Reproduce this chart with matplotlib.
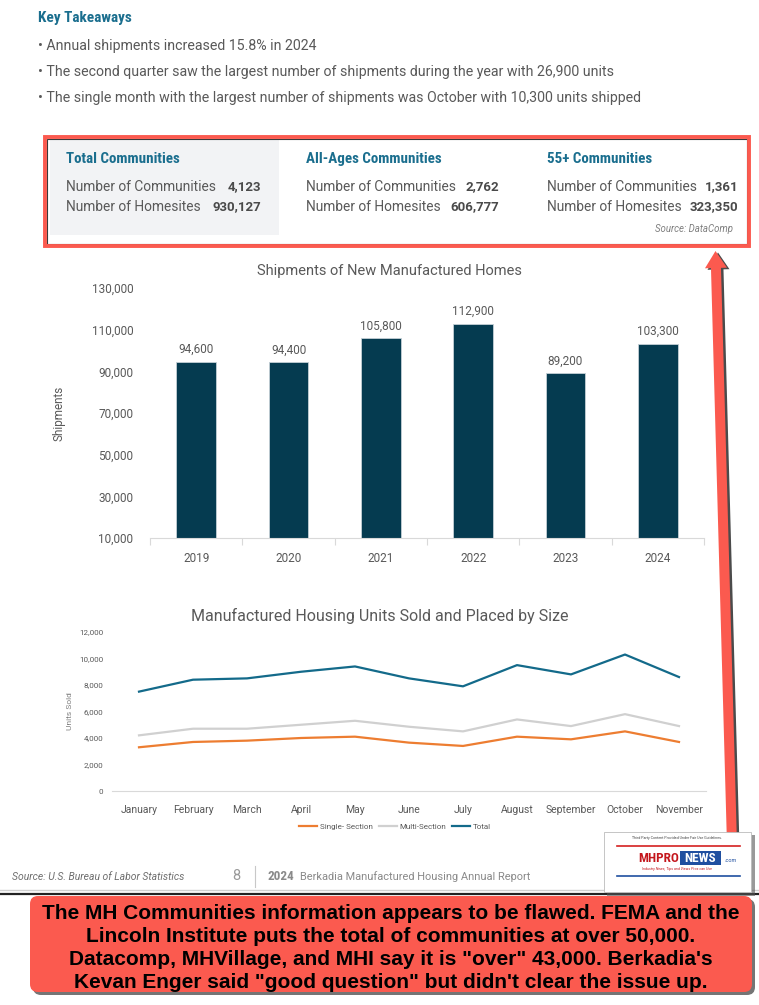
import matplotlib
matplotlib.use('Agg')
import matplotlib.pyplot as plt
from matplotlib.patches import Rectangle, FancyBboxPatch, Polygon
from matplotlib import font_manager as fm
from matplotlib.ticker import FuncFormatter, FixedLocator

# ---------------- data ----------------
years = ['2019', '2020', '2021', '2022', '2023', '2024']
shipments = [94600, 94400, 105800, 112900, 89200, 103300]
bar_yticks = [10000, 30000, 50000, 70000, 90000, 110000, 130000]

months = ['January', 'February', 'March', 'April', 'May', 'June', 'July',
          'August', 'September', 'October', 'November']
single_section = [3300, 3700, 3800, 4000, 4100, 3650, 3400, 4100, 3900, 4500, 3700]
multi_section = [4200, 4700, 4700, 5000, 5300, 4850, 4500, 5400, 4900, 5800, 4900]
total_units = [7500, 8400, 8500, 9000, 9400, 8500, 7900, 9500, 8800, 10300, 8600]
line_yticks = [0, 2000, 4000, 6000, 8000, 10000, 12000]
series_names = ['Single- Section', 'Multi-Section', 'Total']

takeaways = [
    'Annual shipments increased 15.8% in 2024',
    'The second quarter saw the largest number of shipments during the year with 26,900 units',
    'The single month with the largest number of shipments was October with 10,300 units shipped',
]
community_groups = ['Total Communities', 'All-Ages Communities', '55+ Communities']
num_communities = [4123, 2762, 1361]
num_homesites = [930127, 606777, 323350]

callout_lines = [
    'The MH Communities information appears to be flawed. FEMA and the',
    'Lincoln Institute puts the total of communities at over 50,000.',
    'Datacomp, MHVillage, and MHI say it is "over" 43,000. Berkadia\'s',
    'Kevan Enger said "good question" but didn\'t clear the issue up.',
]

# ---------------- fonts ----------------
names = {f.name for f in fm.fontManager.ttflist}
def pick(*cands):
    for c in cands:
        if c in names:
            return c
    return 'DejaVu Sans'
BASE = pick('Roboto', 'Lato', 'DejaVu Sans')
COND = pick('Roboto Condensed', 'Liberation Sans Narrow', 'Roboto', 'DejaVu Sans')
NARROW = pick('Liberation Sans Narrow', 'Roboto Condensed', 'Liberation Sans', 'DejaVu Sans')
ARIAL = pick('Liberation Sans', 'Arimo', 'DejaVu Sans')
plt.rcParams['font.family'] = [BASE, 'DejaVu Sans']

W, H = 759, 1005
TEAL = '#1a6e8e'
GRAY = '#595959'
RED = '#fb5a4f'
BAR = '#053b50'

fig = plt.figure(figsize=(W / 100, H / 100), dpi=100)
fig.patch.set_facecolor('white')

def fbox(x0, y0, x1, y1):
    return [x0 / W, 1 - y1 / H, (x1 - x0) / W, (y1 - y0) / H]

# background overlay
bg = fig.add_axes([0, 0, 1, 1], zorder=0)
bg.set_xlim(0, W); bg.set_ylim(H, 0); bg.axis('off')

bg.text(38, 18, 'Key Takeaways', fontsize=11, fontweight='bold', color=TEAL,
        family=COND, va='center', ha='left')
for i, t in enumerate(takeaways):
    bg.text(38, 46 + 26 * i, '\u2022 ' + t, fontsize=10.2, color=GRAY, va='center', ha='left')

# communities box
bg.add_patch(Rectangle((50, 139), 229, 96, facecolor='#f2f3f5', edgecolor='none'))
bg.add_patch(Rectangle((47, 139), 700, 105, facecolor='none', edgecolor='#3a3a3a', lw=0.8))
bg.add_patch(Rectangle((45, 137), 704, 109, facecolor='none', edgecolor=RED, lw=2.8))
label_x = [66, 306, 547]
value_x = [261, 499, 738]
for i, g in enumerate(community_groups):
    bg.text(label_x[i], 159, g, fontsize=10.8, fontweight='bold', color=TEAL, family=COND,
            va='center', ha='left')
    bg.text(label_x[i], 187, 'Number of Communities', fontsize=9.9, color=GRAY, va='center')
    bg.text(label_x[i], 207, 'Number of Homesites', fontsize=9.9, color=GRAY, va='center')
    bg.text(value_x[i], 187, f'{num_communities[i]:,}', fontsize=9.5, color='#4a4a4a',
            fontweight='bold', va='center', ha='right')
    bg.text(value_x[i], 207, f'{num_homesites[i]:,}', fontsize=9.5, color='#4a4a4a',
            fontweight='bold', va='center', ha='right')
bg.text(733, 229, 'Source: DataComp', fontsize=6.9, color='#7f7f7f', style='italic',
        va='center', ha='right')

# footer
bg.text(12, 877, 'Source: U.S. Bureau of Labor Statistics', fontsize=7.5, style='italic',
        color='#6f6f6f', va='center')
bg.text(236, 876, '8', fontsize=10.5, color='#9a9a9a', va='center', ha='center')
bg.plot([255, 255], [866, 887], color='#c8c8c8', lw=0.8)
bg.text(267, 876, '2024', fontsize=9.5, fontweight='bold', color='#8a8a8a', va='center', family=COND)
bg.text(300, 877, 'Berkadia Manufactured Housing Annual Report', fontsize=7.9, color='#8a8a8a',
        va='center')
bg.plot([0, W], [890, 890], color='#cfcfcf', lw=1)
bg.plot([0, W], [893.5, 893.5], color='#222222', lw=1.6)

# ---------------- bar chart ----------------
ax1 = fig.add_axes(fbox(150, 288, 704, 538), zorder=1)
ax1.set_facecolor('none')
x = list(range(len(years)))
bars = ax1.bar(x, shipments, width=0.43, color=BAR, edgecolor='#c5d0d6', linewidth=0.6)
ax1.bar_label(bars, labels=[f'{v:,}' for v in shipments], padding=4, fontsize=8.5, color=GRAY)
ax1.set_xlim(-0.5, len(years) - 0.5)
ax1.set_ylim(10000, 130000)
ax1.yaxis.set_major_locator(FixedLocator(bar_yticks))
ax1.yaxis.set_major_formatter(FuncFormatter(lambda v, p: f'{int(v):,}'))
ax1.set_xticks(x)
ax1.set_xticklabels(years)
ax1.set_xticks([i - 0.5 for i in range(len(years) + 1)], minor=True)
ax1.tick_params(axis='x', which='major', length=0, pad=10, labelsize=8.5, labelcolor=GRAY)
ax1.tick_params(axis='x', which='minor', length=5, color='#d9d9d9', width=0.8)
ax1.tick_params(axis='y', length=0, pad=12, labelsize=8.5, labelcolor=GRAY)
for s in ['top', 'right', 'left']:
    ax1.spines[s].set_visible(False)
ax1.spines['bottom'].set_color('#d9d9d9')
ax1.set_ylabel('Shipments', fontsize=8.5, color=GRAY, labelpad=19)
fig.text(389 / W, 1 - 271 / H, 'Shipments of New Manufactured Homes', fontsize=10.5,
         color=GRAY, ha='center', va='center')

# ---------------- line chart ----------------
ax2 = fig.add_axes(fbox(112, 632, 706, 791), zorder=1)
ax2.set_facecolor('none')
mx = list(range(len(months)))
colors = ['#ed7d31', '#d0d0d0', '#136a8a']
for ys, c, n in zip([single_section, multi_section, total_units], colors, series_names):
    ax2.plot(mx, ys, color=c, lw=1.6, label=n, solid_joinstyle='round')
ax2.set_xlim(-0.5, len(months) - 0.5)
ax2.set_ylim(0, 12000)
ax2.yaxis.set_major_locator(FixedLocator(line_yticks))
ax2.yaxis.set_major_formatter(FuncFormatter(lambda v, p: f'{int(v):,}'))
ax2.set_xticks(mx)
ax2.set_xticklabels(months)
ax2.tick_params(axis='x', length=0, pad=10, labelsize=7.5, labelcolor=GRAY)
ax2.tick_params(axis='y', length=0, pad=6.5, labelsize=5.8, labelcolor=GRAY)
for s in ['top', 'right', 'left']:
    ax2.spines[s].set_visible(False)
ax2.spines['bottom'].set_color('#d9d9d9')
ax2.set_ylabel('Units Sold', fontsize=6, color='#7f7f7f', labelpad=4)
fig.text(380 / W, 1 - 616 / H, 'Manufactured Housing Units Sold and Placed by Size',
         fontsize=11.5, color=GRAY, ha='center', va='center')
fig.legend(loc='center', bbox_to_anchor=(395 / W, 1 - 827 / H), ncol=3, frameon=False,
           fontsize=5.8, handlelength=2.2, columnspacing=0.8, handletextpad=0.3,
           labelcolor=GRAY)

# ---------------- foreground overlay ----------------
fg = fig.add_axes([0, 0, 1, 1], zorder=5)
fg.set_facecolor('none')
fg.set_xlim(0, W); fg.set_ylim(H, 0); fg.axis('off')

def arrow_poly(x0, y0, x1, y1, sw, hw, hl, dx=0, dy=0):
    import math
    L = math.hypot(x1 - x0, y1 - y0)
    ux, uy = (x1 - x0) / L, (y1 - y0) / L
    px, py = -uy, ux
    bx, by = x1 - ux * hl, y1 - uy * hl
    pts = [
        (x0 + px * sw / 2, y0 + py * sw / 2),
        (bx + px * sw / 2, by + py * sw / 2),
        (bx + px * hw / 2, by + py * hw / 2),
        (x1, y1),
        (bx - px * hw / 2, by - py * hw / 2),
        (bx - px * sw / 2, by - py * sw / 2),
        (x0 - px * sw / 2, y0 - py * sw / 2),
    ]
    return [(a + dx, b + dy) for a, b in pts]

fg.add_patch(Polygon(arrow_poly(732, 845, 715.5, 251, 10, 22, 17, 2.5, 1.5),
                     closed=True, facecolor='#2b2b2b', edgecolor='none', alpha=0.85))
fg.add_patch(Polygon(arrow_poly(732, 845, 715.5, 251, 10, 22, 17),
                     closed=True, facecolor=RED, edgecolor='none'))

# logo
fg.add_patch(Rectangle((607, 835), 148, 61, facecolor='#555555', edgecolor='none', alpha=0.6))
fg.add_patch(Rectangle((604, 832), 147, 60, facecolor='white', edgecolor='#bbbbbb', lw=0.6))
fg.text(677, 838, 'Third Party Content Provided Under Fair Use Guidelines.', fontsize=2.6,
        color='#444444', ha='center', va='center')
fg.plot([617, 740], [846, 846], color='#d42020', lw=1.2)
fg.text(679, 858, 'MHPRO', fontsize=9.5, fontweight='bold', color='#c4161c', ha='right',
        va='center', family=NARROW)
fg.add_patch(Rectangle((680, 851), 41, 14, facecolor='#1f4fa0', edgecolor='none'))
fg.text(700.5, 858, 'NEWS', fontsize=9.5, fontweight='bold', color='white', ha='center',
        va='center', family=NARROW)
fg.text(731, 860, '.com', fontsize=4, color='#1f4fa0', ha='center', va='center')
fg.text(677, 869, 'Industry News, Tips and Views Pros can Use', fontsize=2.6, color='#c4161c',
        ha='center', va='center', style='italic')
fg.plot([617, 740], [876, 876], color='#1f4fa0', lw=1.2)

# callout
fg.add_patch(FancyBboxPatch((33, 899), 722, 96, boxstyle='round,pad=0,rounding_size=8',
                            facecolor='#3a3a3a', edgecolor='none', alpha=0.7))
fg.add_patch(FancyBboxPatch((30, 896), 722, 96, boxstyle='round,pad=0,rounding_size=8',
                            facecolor=RED, edgecolor='none'))
for i, t in enumerate(callout_lines):
    fg.text(391, 913 + 23.3 * i, t, fontsize=15, fontweight='bold', color='black',
            ha='center', va='center', family=ARIAL)

fig.savefig('out.png', dpi=100)
